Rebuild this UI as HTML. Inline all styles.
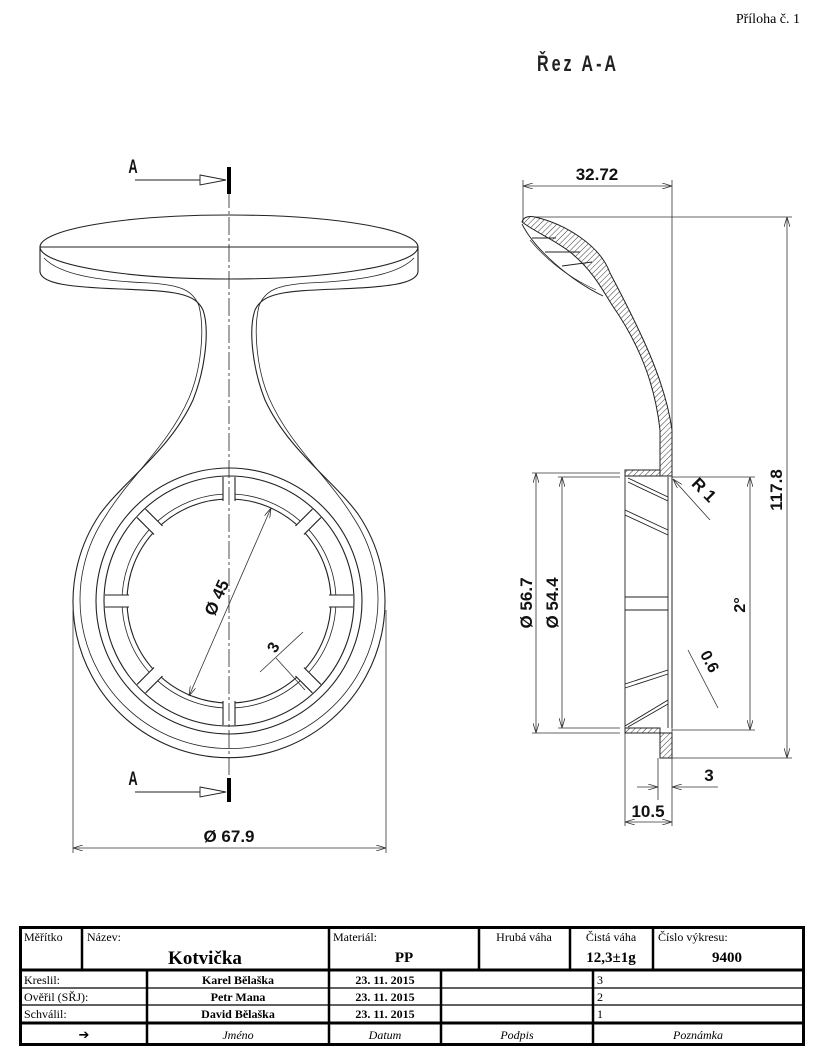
<!DOCTYPE html>
<html><head><meta charset="utf-8"><style>
html,body{margin:0;padding:0;background:#fff}
svg{display:block}
.s{font-family:"Liberation Sans",sans-serif;font-weight:bold;fill:#111}
.r{font-family:"Liberation Serif",serif;fill:#000}
</style></head><body>
<svg width="816" height="1055" viewBox="0 0 816 1055" xmlns="http://www.w3.org/2000/svg">
<defs>
<pattern id="h" width="4" height="4" patternUnits="userSpaceOnUse" patternTransform="rotate(45)">
<line x1="0" y1="0" x2="0" y2="4" stroke="#222" stroke-width="0.9"/></pattern>
<marker id="ar" markerWidth="10" markerHeight="6" refX="10" refY="3" orient="auto" markerUnits="userSpaceOnUse"><path d="M0 0 L10 3 L0 6" fill="none" stroke="#333" stroke-width="0.8"/></marker>
<marker id="al" markerWidth="10" markerHeight="6" refX="0" refY="3" orient="auto" markerUnits="userSpaceOnUse"><path d="M10 0 L0 3 L10 6" fill="none" stroke="#333" stroke-width="0.8"/></marker>
</defs>

<text x="800" y="23" class="r" font-size="14" text-anchor="end">Příloha č. 1</text>
<text transform="translate(578,71) scale(0.85,1.15)" font-family="Liberation Sans,sans-serif" font-weight="bold" font-size="19" letter-spacing="3.5" text-anchor="middle" fill="#222">Řez A-A</text>

<!-- LEFT VIEW -->
<g fill="none" stroke="#222" stroke-width="1.1">
<ellipse cx="229" cy="247" rx="189" ry="32" />
<line x1="40" y1="247" x2="418" y2="247"/>
<path d="M40 247 L40 272 C42 284 70 287 120 289 C175 291 195 293 203 310 C210 330 205 370 193 400 C170 450 125 480 100 514 A156 156 0 1 0 358 514 C333 480 288 450 265 400 C253 370 248 330 255 310 C263 293 283 291 338 289 C388 287 416 284 418 272 L418 247"/>
<path d="M44 258 C60 275 100 281 150 283 C180 285 193 290 199 306 C205 330 201 370 189 398 C168 446 130 476 105 517 A149 149 0 1 0 353 517 C328 476 290 446 269 398 C257 370 253 330 259 306 C265 290 278 285 308 283 C358 281 398 275 414 258" stroke-width="0.8"/>
<circle cx="229" cy="601" r="133"/>
<circle cx="229" cy="601" r="125"/>
<circle cx="229" cy="601" r="107" stroke-width="0.8"/>
<circle cx="229" cy="601" r="102"/>
</g>
<!-- spokes -->
<g>
<g id="sp"><rect x="223" y="477" width="12" height="24" fill="#fff"/><line x1="223" y1="477" x2="223" y2="501" stroke="#222" stroke-width="1.1"/><line x1="235" y1="477" x2="235" y2="501" stroke="#222" stroke-width="1.1"/></g>
<use href="#sp" transform="rotate(45 229 601)"/>
<use href="#sp" transform="rotate(90 229 601)"/>
<use href="#sp" transform="rotate(135 229 601)"/>
<use href="#sp" transform="rotate(180 229 601)"/>
<use href="#sp" transform="rotate(225 229 601)"/>
<use href="#sp" transform="rotate(270 229 601)"/>
<use href="#sp" transform="rotate(315 229 601)"/>
</g>
<!-- centerline -->
<line x1="229" y1="190" x2="229" y2="780" stroke="#222" stroke-width="0.8" stroke-dasharray="18 3 3 3"/>
<rect x="227" y="167" width="4" height="27" fill="#000"/>
<rect x="227" y="778" width="4" height="24" fill="#000"/>
<g stroke="#222" stroke-width="0.9" fill="#fff">
<line x1="135" y1="180" x2="200" y2="180"/><path d="M200 175 L226 180 L200 185 Z"/>
<line x1="135" y1="792" x2="200" y2="792"/><path d="M200 787 L226 792 L200 797 Z"/>
</g>
<text transform="translate(133,173) scale(0.8,1.2)" class="s" font-size="16" text-anchor="middle">A</text>
<text transform="translate(133,785) scale(0.8,1.2)" class="s" font-size="16" text-anchor="middle">A</text>
<!-- Ø45 -->
<line x1="271" y1="508" x2="189" y2="696" stroke="#333" stroke-width="0.8" marker-start="url(#al)" marker-end="url(#ar)"/>
<text transform="translate(222,600) rotate(-66)" class="s" font-size="17" text-anchor="middle">Ø 45</text>
<!-- 3 -->
<line x1="260" y1="672" x2="303" y2="632" stroke="#333" stroke-width="0.8"/>
<line x1="276" y1="658" x2="305" y2="690" stroke="#333" stroke-width="0.8"/>
<text transform="translate(278,650) rotate(-60)" class="s" font-size="16" text-anchor="middle">3</text>
<!-- Ø67.9 -->
<g stroke="#333" stroke-width="0.8">
<line x1="73" y1="610" x2="73" y2="853"/><line x1="386" y1="610" x2="386" y2="853"/>
<line x1="73" y1="848" x2="386" y2="848" marker-start="url(#al)" marker-end="url(#ar)"/>
</g>
<text x="229" y="842" class="s" font-size="17" text-anchor="middle">Ø 67.9</text>

<!-- RIGHT VIEW -->
<g stroke="#333" stroke-width="0.8" fill="none">
<line x1="523" y1="180" x2="523" y2="222"/>
<line x1="672" y1="180" x2="672" y2="760"/>
<line x1="523" y1="186" x2="672" y2="186" marker-start="url(#al)" marker-end="url(#ar)"/>
<line x1="535" y1="217" x2="792" y2="217"/>
<line x1="660" y1="758" x2="792" y2="758"/>
<line x1="787" y1="217" x2="787" y2="758" marker-start="url(#al)" marker-end="url(#ar)"/>
<line x1="532" y1="473" x2="620" y2="473"/><line x1="532" y1="733" x2="620" y2="733"/>
<line x1="558" y1="477" x2="620" y2="477"/><line x1="558" y1="728" x2="620" y2="728"/>
<line x1="536" y1="473" x2="536" y2="733" marker-start="url(#al)" marker-end="url(#ar)"/>
<line x1="562" y1="477" x2="562" y2="728" marker-start="url(#al)" marker-end="url(#ar)"/>
<line x1="672" y1="477" x2="755" y2="477"/><line x1="672" y1="730" x2="755" y2="730"/>
<line x1="750" y1="477" x2="750" y2="730" marker-start="url(#al)" marker-end="url(#ar)"/>
<line x1="710" y1="520" x2="673" y2="479" marker-end="url(#ar)"/>
<line x1="688" y1="650" x2="718" y2="708"/>
<line x1="658" y1="758" x2="658" y2="800"/>
<line x1="625" y1="733" x2="625" y2="826"/><line x1="672" y1="760" x2="672" y2="826"/>
<line x1="637" y1="787" x2="658" y2="787" marker-end="url(#ar)"/>
<line x1="718" y1="787" x2="672" y2="787" marker-end="url(#ar)"/>
<line x1="625" y1="822" x2="672" y2="822" marker-start="url(#al)" marker-end="url(#ar)"/>
</g>
<text x="597" y="180" class="s" font-size="17" text-anchor="middle">32.72</text>
<text transform="translate(782,490) rotate(-90)" class="s" font-size="17" text-anchor="middle">117.8</text>
<text transform="translate(532,603) rotate(-90)" class="s" font-size="17" text-anchor="middle">Ø 56.7</text>
<text transform="translate(558,603) rotate(-90)" class="s" font-size="17" text-anchor="middle">Ø 54.4</text>
<text transform="translate(745,605) rotate(-90)" class="s" font-size="16" text-anchor="middle">2°</text>
<text transform="translate(700,494) rotate(45)" class="s" font-size="17" text-anchor="middle">R 1</text>
<text transform="translate(705,664) rotate(62)" class="s" font-size="16" text-anchor="middle">0.6</text>
<text x="709" y="781" class="s" font-size="17" text-anchor="middle">3</text>
<text x="648" y="817" class="s" font-size="17" text-anchor="middle">10.5</text>

<!-- section profile -->
<g stroke="#222" stroke-width="1" fill="url(#h)">
<path d="M522 222 Q524 215 535 217 C565 224 600 245 610 273 C640 330 665 380 672 430 L672 476 L660 476 L660 430 C655 385 640 345 612 305 C600 285 590 268 570 252 C555 240 535 232 522 222 Z"/>
<path d="M625 470 L660 470 L660 476 L625 476 Z"/>
<path d="M625 728 L660 728 L660 733 L625 733 Z"/>
<path d="M660 733 L672 733 L672 758 L660 758 Z"/>
</g>
<g stroke="#222" stroke-width="0.9" fill="none">
<path d="M522 224 C535 250 570 280 603 296"/>
<path d="M530 240 C548 262 570 278 596 290" stroke-width="0.6"/>
<line x1="532" y1="238" x2="556" y2="238"/>
<line x1="545" y1="252" x2="580" y2="252"/>
<line x1="562" y1="266" x2="592" y2="262"/>
<line x1="625" y1="476" x2="625" y2="728"/>
<line x1="668" y1="477" x2="668" y2="728"/>
<line x1="672" y1="477" x2="672" y2="728"/>
<line x1="625" y1="597" x2="668" y2="597"/>
<line x1="625" y1="610" x2="668" y2="610"/>
<line x1="628" y1="478" x2="668" y2="497"/><line x1="628" y1="482" x2="668" y2="501"/>
<line x1="625" y1="510" x2="668" y2="530"/><line x1="625" y1="515" x2="668" y2="535"/>
<line x1="625" y1="684" x2="668" y2="670"/><line x1="625" y1="688" x2="668" y2="674"/>
<line x1="625" y1="726" x2="668" y2="700"/><line x1="628" y1="727" x2="668" y2="704"/>
</g>

<!-- TITLE BLOCK -->
<g stroke="#000" fill="none">
<rect x="20.5" y="927.5" width="783" height="117" stroke-width="3"/>
<line x1="20" y1="970" x2="804" y2="970" stroke-width="3"/>
<line x1="20" y1="1023" x2="804" y2="1023" stroke-width="3"/>
<line x1="20" y1="988" x2="804" y2="988" stroke-width="1.2"/>
<line x1="20" y1="1005" x2="804" y2="1005" stroke-width="1.2"/>
<g stroke-width="2.5">
<line x1="82" y1="927" x2="82" y2="970"/>
<line x1="329" y1="927" x2="329" y2="970"/>
<line x1="479" y1="927" x2="479" y2="970"/>
<line x1="570" y1="927" x2="570" y2="970"/>
<line x1="653" y1="927" x2="653" y2="970"/>
<line x1="147" y1="970" x2="147" y2="1044"/>
<line x1="329" y1="970" x2="329" y2="1044"/>
<line x1="441" y1="970" x2="441" y2="1044"/>
<line x1="593" y1="970" x2="593" y2="1044"/>
</g>
</g>
<g class="r" font-size="12">
<text x="24" y="941">Měřítko</text>
<text x="87" y="941">Název:</text>
<text x="333" y="941">Materiál:</text>
<text x="524" y="941" text-anchor="middle">Hrubá váha</text>
<text x="611" y="941" text-anchor="middle">Čistá váha</text>
<text x="658" y="941">Číslo výkresu:</text>
<text x="24" y="984">Kreslil:</text>
<text x="24" y="1001">Ověřil (SŘJ):</text>
<text x="24" y="1018">Schválil:</text>
<text x="238" y="1039" text-anchor="middle" font-style="italic">Jméno</text>
<text x="385" y="1039" text-anchor="middle" font-style="italic">Datum</text>
<text x="517" y="1039" text-anchor="middle" font-style="italic">Podpis</text>
<text x="698" y="1039" text-anchor="middle" font-style="italic">Poznámka</text>
</g>
<g class="r" font-weight="bold">
<text x="205" y="964" font-size="19" text-anchor="middle">Kotvička</text>
<text x="404" y="962" font-size="15" text-anchor="middle">PP</text>
<text x="611" y="962" font-size="15" text-anchor="middle">12,3±1g</text>
<text x="727" y="962" font-size="15" text-anchor="middle">9400</text>
<text x="238" y="984" font-size="12" text-anchor="middle">Karel Bělaška</text>
<text x="238" y="1001" font-size="12" text-anchor="middle">Petr Mana</text>
<text x="238" y="1018" font-size="12" text-anchor="middle">David Bělaška</text>
<text x="385" y="984" font-size="12" text-anchor="middle">23. 11. 2015</text>
<text x="385" y="1001" font-size="12" text-anchor="middle">23. 11. 2015</text>
<text x="385" y="1018" font-size="12" text-anchor="middle">23. 11. 2015</text>
</g>
<g class="r" font-size="12">
<text x="597" y="984">3</text><text x="597" y="1001">2</text><text x="597" y="1018">1</text>
</g>
<text x="84" y="1039" font-family="DejaVu Sans,sans-serif" font-weight="bold" font-size="13" text-anchor="middle">➔</text>
</svg>
</body></html>
